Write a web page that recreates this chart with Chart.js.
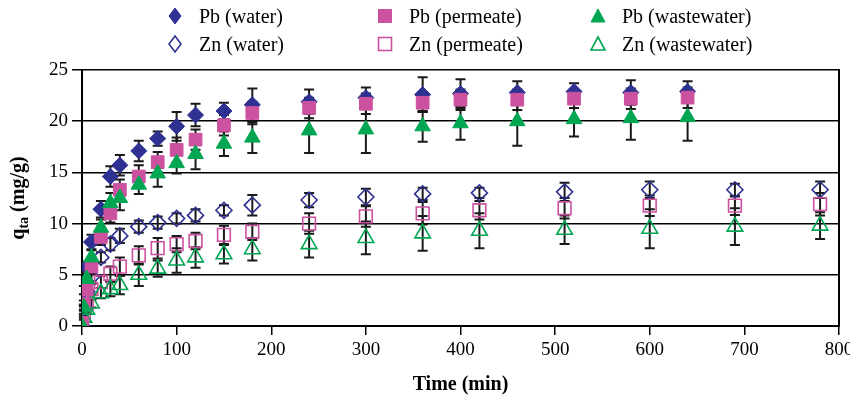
<!DOCTYPE html>
<html>
<head>
<meta charset="utf-8">
<script src="https://cdn.jsdelivr.net/npm/chart.js@4.4.1/dist/chart.umd.min.js"></script>
<style>
  body { margin: 0; background: #fff; }
  #wrap { position: relative; width: 850px; height: 399px; }
  #legend {
    position: absolute; left: 165px; top: 2px;
    display: grid; grid-template-columns: 210px 213px 200px; grid-auto-rows: 28px;
    font-family: 'Liberation Serif', 'Times New Roman', serif; font-size: 20px; color: #000;
  }
  #legend .item { display: flex; align-items: center; }
  #legend svg { width: 20px; height: 20px; margin-right: 14px; }
</style>
</head>
<body>
<div id="wrap">
  <canvas id="myChart" width="850" height="399"></canvas>
  <div id="legend"></div>
</div>
<script>
"use strict"

// sampling times (min)
const pbTimes = [0, 2, 5, 10, 20, 30, 40, 60, 80, 100, 120, 150, 180, 240, 300, 360, 400, 460, 520, 580, 640];
const znTimes = [0, 2, 5, 10, 20, 30, 40, 60, 80, 100, 120, 150, 180, 240, 300, 360, 420, 510, 600, 690, 780];

// q_ta (mg/g)
const pbWater     = [0, 3.5, 5.8, 8.2, 11.4, 14.6, 15.7, 17.1, 18.3, 19.5, 20.6, 21.0, 21.6, 21.9, 22.3, 22.6, 22.7, 22.8, 22.9, 22.8, 22.9];
const pbPermeate  = [0.3, 2.2, 3.6, 5.8, 8.7, 11.0, 13.3, 14.6, 16.0, 17.2, 18.2, 19.6, 20.8, 21.3, 21.7, 21.8, 22.1, 22.1, 22.2, 22.2, 22.3];
const pbWaste     = [0, 1.8, 4.6, 6.7, 9.6, 12.0, 12.5, 13.8, 14.9, 15.9, 16.8, 17.8, 18.4, 19.1, 19.2, 19.5, 19.8, 20.0, 20.2, 20.3, 20.4];
const znWater     = [0, 1.8, 3.4, 4.8, 6.7, 8.0, 8.8, 9.7, 10.1, 10.5, 10.8, 11.3, 11.8, 12.3, 12.6, 12.9, 13.0, 13.1, 13.3, 13.3, 13.3];
const znPermeate  = [0, 1.0, 2.2, 3.6, 4.3, 5.1, 5.8, 6.9, 7.6, 8.0, 8.3, 8.9, 9.2, 10.0, 10.7, 11.0, 11.3, 11.5, 11.75, 11.75, 11.9];
const znWaste     = [0, 0.8, 1.6, 2.2, 3.2, 3.6, 4.0, 5.0, 5.6, 6.4, 6.7, 7.0, 7.5, 8.0, 8.6, 9.05, 9.3, 9.4, 9.5, 9.7, 9.8];

// error bar half-lengths
const pbWaterErr    = [0, 0.4, 0.5, 0.7, 0.8, 1.0, 1.0, 1.0, 0.7, 1.4, 1.1, 0.8, 1.6, 1.2, 1.0, 1.7, 1.4, 1.1, 0.8, 1.2, 1.0];
const pbPermeateErr = [0, 0.3, 0.5, 0.7, 0.8, 0.9, 1.0, 1.1, 1.0, 1.2, 1.0, 1.0, 1.1, 1.0, 1.0, 0.9, 1.0, 1.0, 0.9, 1.0, 1.0];
const pbWasteErr    = [0, 0.3, 0.5, 0.7, 0.8, 1.0, 1.2, 0.9, 1.3, 1.0, 1.5, 1.2, 1.5, 2.2, 2.3, 1.5, 1.6, 2.4, 1.7, 2.1, 2.3];
const znWaterErr    = [0, 0.2, 0.3, 0.4, 0.5, 0.6, 0.7, 0.6, 0.6, 0.5, 0.6, 0.5, 1.0, 0.7, 0.8, 0.6, 0.5, 0.9, 0.8, 0.6, 0.8];
const znPermeateErr = [0, 0.2, 0.3, 0.5, 0.6, 0.7, 0.9, 0.9, 1.0, 0.8, 0.8, 0.9, 0.8, 1.0, 1.0, 1.1, 0.9, 1.0, 1.0, 0.9, 1.1];
const znWasteErr    = [0, 0.2, 0.3, 0.4, 0.5, 0.7, 0.9, 1.1, 0.8, 1.2, 1.0, 0.9, 1.1, 1.3, 1.6, 1.7, 1.7, 1.4, 1.9, 1.8, 1.3];

const navy = '#2e3192';
const pink = '#cc52a0';
const green = '#00a651';
const serif = "'Liberation Serif', 'Times New Roman', serif";

function points(times, vals) {
    return times.map((t, i) => ({x: t, y: vals[i]}));
}

const series = [
    {label: 'Pb (water)', times: pbTimes, vals: pbWater, err: pbWaterErr, style: 'rectRot', r: 8, color: navy, filled: true, order: 3},
    {label: 'Pb (permeate)', times: pbTimes, vals: pbPermeate, err: pbPermeateErr, style: 'rect', r: 9, color: pink, filled: true, order: 2},
    {label: 'Pb (wastewater)', times: pbTimes, vals: pbWaste, err: pbWasteErr, style: 'triangle', r: 9, color: green, filled: true, order: 1},
    {label: 'Zn (water)', times: znTimes, vals: znWater, err: znWaterErr, style: 'rectRot', r: 8, color: navy, filled: false, order: 6},
    {label: 'Zn (permeate)', times: znTimes, vals: znPermeate, err: znPermeateErr, style: 'rect', r: 9, color: pink, filled: false, order: 5},
    {label: 'Zn (wastewater)', times: znTimes, vals: znWaste, err: znWasteErr, style: 'triangle', r: 9, color: green, filled: false, order: 4},
];

const datasets = series.map(s => ({
    label: s.label,
    data: points(s.times, s.vals),
    errors: s.err,
    showLine: false,
    pointStyle: s.style,
    pointRadius: s.r,
    pointHoverRadius: s.r,
    pointBackgroundColor: s.filled ? s.color : 'rgba(0,0,0,0)',
    pointBorderColor: s.color,
    pointBorderWidth: s.filled ? 1 : 1.6,
    order: s.order,
}));

// black error bars, under the markers
const errorBars = {
    id: 'errorBars',
    beforeDatasetsDraw(chart) {
        const {ctx, scales: {x, y}} = chart;
        ctx.save();
        ctx.strokeStyle = '#1a1a1a';
        ctx.lineWidth = 2;
        chart.data.datasets.forEach(ds => {
            ds.data.forEach((p, i) => {
                const e = ds.errors[i];
                if (!e) return;
                const px = x.getPixelForValue(p.x);
                const top = y.getPixelForValue(p.y + e);
                const bot = y.getPixelForValue(p.y - e);
                ctx.beginPath();
                ctx.moveTo(px, top); ctx.lineTo(px, bot);
                ctx.moveTo(px - 5, top); ctx.lineTo(px + 5, top);
                ctx.moveTo(px - 5, bot); ctx.lineTo(px + 5, bot);
                ctx.stroke();
            });
        });
        ctx.restore();
    }
};

// y title with subscript
const yTitle = {
    id: 'yTitle',
    afterDraw(chart) {
        const ctx = chart.ctx;
        const big = 'bold 20px ' + serif;
        const small = 'bold 14px ' + serif;
        ctx.save();
        ctx.translate(19, (chart.chartArea.top + chart.chartArea.bottom) / 2);
        ctx.rotate(-Math.PI / 2);
        ctx.fillStyle = '#000';
        ctx.textBaseline = 'middle';
        ctx.font = big;
        const w1 = ctx.measureText('q').width;
        const w3 = ctx.measureText(' (mg/g)').width;
        ctx.font = small;
        const w2 = ctx.measureText('ta').width;
        let xx = -(w1 + w2 + w3) / 2;
        ctx.font = big;
        ctx.fillText('q', xx, 0);
        xx += w1;
        ctx.font = small;
        ctx.fillText('ta', xx, 5);
        xx += w2;
        ctx.font = big;
        ctx.fillText(' (mg/g)', xx, 0);
        ctx.restore();
    }
};

const theChart = new Chart(document.getElementById('myChart'), {
    type: 'scatter',
    data: {datasets: datasets},
    options: {
        responsive: false,
        animation: false,
        devicePixelRatio: 1,
        layout: {padding: {top: 70, left: 0, right: 0, bottom: 0}},
        scales: {
            x: {
                type: 'linear',
                min: 0, max: 800,
                afterFit(scale) {
                    scale.height = 73;
                    scale.paddingLeft = 0;
                    scale.paddingRight = 0;
                },
                ticks: {stepSize: 100, color: '#000', font: {family: serif, size: 19}, padding: 4},
                grid: {drawOnChartArea: false, color: '#000', lineWidth: 1.5, tickLength: 9},
                border: {color: '#000', width: 2},
                title: {display: true, text: 'Time (min)', color: '#000',
                        font: {family: serif, size: 20, weight: 'bold'}, padding: {top: 0, bottom: 2}},
            },
            y: {
                min: 0, max: 25,
                afterFit(scale) { scale.width = 82; },
                ticks: {stepSize: 5, color: '#000', font: {family: serif, size: 19}, padding: 4},
                grid: {color: '#000', lineWidth: 1.5, tickLength: 10},
                border: {color: '#000', width: 2},
            },
            y2: {
                position: 'right',
                min: 0, max: 25,
                afterFit(scale) { scale.width = 11; },
                ticks: {display: false},
                grid: {drawOnChartArea: false, drawTicks: false},
                border: {color: '#000', width: 2},
            },
        },
        plugins: {
            legend: {display: false},
            tooltip: {enabled: false},
        }
    },
    plugins: [errorBars, yTitle]
});

// legend, 3 columns x 2 rows
function markerSvg(s) {
    const fill = s.filled ? s.color : 'none';
    const sw = s.filled ? 1 : 1.6;
    let shape;
    if (s.style === 'rectRot') shape = `<polygon points="10,2 16,10 10,18 4,10" fill="${fill}" stroke="${s.color}" stroke-width="${sw}"/>`;
    else if (s.style === 'rect') shape = `<rect x="3.5" y="3.5" width="13" height="13" fill="${fill}" stroke="${s.color}" stroke-width="${sw}"/>`;
    else shape = `<polygon points="10,3 17,16 3,16" fill="${fill}" stroke="${s.color}" stroke-width="${sw}"/>`;
    return `<svg viewBox="0 0 20 20">${shape}</svg>`;
}

const legendBox = document.getElementById('legend');
series.forEach(s => {
    const item = document.createElement('div');
    item.className = 'item';
    item.innerHTML = markerSvg(s) + `<span>${s.label}</span>`;
    legendBox.appendChild(item);
});
</script>
</body>
</html>
